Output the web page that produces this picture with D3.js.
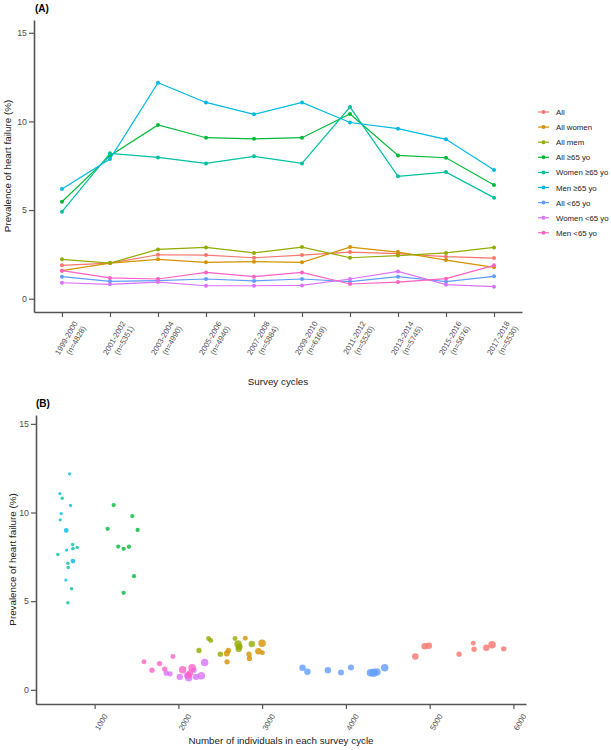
<!DOCTYPE html>
<html>
<head>
<meta charset="utf-8">
<script src="https://cdn.jsdelivr.net/npm/d3@7"></script>
<style>
  html, body { margin: 0; padding: 0; background: #fff; }
  svg { display: block; font-family: "Liberation Sans", Arial, Helvetica, sans-serif; }
</style>
</head>
<body>
<script>
// ---------------- DATA ----------------
const cycles = ["1999-2000","2001-2002","2003-2004","2005-2006","2007-2008","2009-2010","2011-2012","2013-2014","2015-2016","2017-2018"];
const cycleN = [4828, 5351, 4990, 4940, 5884, 6169, 5520, 5745, 5676, 5530];

const groups = ["All","All women","All mem","All \u226565 yo","Women \u226565 yo","Men \u226565 yo","All <65 yo","Women <65 yo","Men <65 yo"];
const groupColors = ["#F8766D","#D39200","#93AA00","#00BA38","#00C19F","#00B9E3","#619CFF","#DB72FB","#FF61C3"];

// Prevalence of heart failure (%) by cycle
const prevAll        = [1.88, 2.01, 2.48, 2.46, 2.31, 2.46, 2.63, 2.54, 2.37, 2.29];
const prevWomen      = [1.58, 2.01, 2.22, 2.05, 2.09, 2.05, 2.91, 2.63, 2.18, 1.77];
const prevMen        = [2.22, 2.01, 2.78, 2.89, 2.58, 2.91, 2.31, 2.43, 2.58, 2.89];
const prevAll65      = [5.47, 8.07, 9.80, 9.08, 9.02, 9.08, 10.42, 8.08, 7.95, 6.41];
const prevWomen65    = [4.91, 8.20, 7.97, 7.63, 8.03, 7.63, 10.81, 6.90, 7.14, 5.70];
const prevMen65      = [6.19, 7.88, 12.18, 11.07, 10.40, 11.07, 9.94, 9.59, 8.99, 7.26];
const prevAllU65     = [1.24, 0.98, 1.02, 1.11, 1.00, 1.11, 0.96, 1.24, 0.96, 1.26];
const prevWomenU65   = [0.90, 0.81, 0.94, 0.73, 0.73, 0.75, 1.11, 1.54, 0.79, 0.68];
const prevMenU65     = [1.58, 1.17, 1.11, 1.48, 1.24, 1.48, 0.83, 0.94, 1.13, 1.88];

// Number of individuals in each subgroup per cycle (panel B); 2009-2010 not shown
const nAll        = [4828, 5351, 4990, 4940, 5884, null, 5520, 5745, 5676, 5530];
const nWomen      = [2581, 2843, 2597, 2577, 3003, null, 2799, 2999, 2955, 2848];
const nMen        = [2246, 2501, 2386, 2360, 2876, null, 2720, 2728, 2712, 2676];
const nAll65      = [1346, 1410, 1450, 1155, 1514, null, 1227, 1282, 1346, 1470];
const nWomen65    = [681, 737, 741, 561, 792, null, 613, 685, 681, 725];
const nMen65      = [657, 665, 701, 585, 713, null, 601, 589, 661, 741];
const nAllU65     = [3482, 3941, 3540, 3785, 4370, null, 4293, 4463, 4330, 4060];
const nWomenU65   = [1900, 2106, 1856, 2016, 2211, null, 2186, 2314, 2274, 2123];
const nMenU65     = [1589, 1836, 1685, 1775, 2163, null, 2119, 2139, 2051, 1935];

// Relative weight (point size variable in panel B)
const wAll        = [9, 6.2, 9, 9, 6.2, null, 5, 12, 9, 6.2];
const wWomen      = [6.2, 6.2, 6.2, 7.8, 5.3, null, 5.3, 12, 9, 6.2];
const wMen        = [6.2, 6.2, 5.3, 5.3, 9, null, 9, 9, 12, 5.3];
const wAll65      = [4, 4, 4, 4, 4, null, 4, 4, 4, 4];
const wWomen65    = [2.6, 2.6, 3, 2.6, 2.6, null, 2.6, 2.6, 2.6, 2.6];
const wMen65      = [2.3, 2.3, 2.3, 2.3, 2.3, null, 2.3, 2.3, 4.8, 4.8];
const wAllU65     = [9, 7.8, 9, 9, 12, null, 12, 12, 16, 7.8];
const wWomenU65   = [6.2, 9, 6.2, 9, 9, null, 6.2, 12, 12, 12];
const wMenU65     = [5.3, 6.2, 6.2, 6.2, 12, null, 9, 9, 12, 5.3];

const yTicks = [0, 5, 10, 15];
const xTicksB = [1000, 2000, 3000, 4000, 5000, 6000];

const prevSeries = [prevAll, prevWomen, prevMen, prevAll65, prevWomen65, prevMen65, prevAllU65, prevWomenU65, prevMenU65];
const nSeries = [nAll, nWomen, nMen, nAll65, nWomen65, nMen65, nAllU65, nWomenU65, nMenU65];
const wSeries = [wAll, wWomen, wMen, wAll65, wWomen65, wMen65, wAllU65, wWomenU65, wMenU65];

// ---------------- CHART ----------------
const W = 611, H = 750;
const svg = d3.select("body").append("svg").attr("width", W).attr("height", H);
const axisColor = "#555";
const tickTextColor = "#4d4d4d";

function styleAxis(g) {
  g.select(".domain").attr("stroke", axisColor).attr("stroke-width", 1.6);
  g.selectAll(".tick line").attr("stroke", axisColor).attr("stroke-width", 1.2);
  g.selectAll(".tick text").attr("fill", tickTextColor);
}

// ===== Panel A =====
const ax = { left: 34, right: 522, top: 20, bottom: 312 };
const xA = d3.scalePoint().domain(cycles).range([ax.left, ax.right]).padding(0.583);
const yA = d3.scaleLinear().domain([-0.75, 15.72]).range([ax.bottom, ax.top]);

const gYA = svg.append("g").attr("transform", `translate(${ax.left},0)`)
  .call(d3.axisLeft(yA).tickValues(yTicks).tickSize(5).tickSizeOuter(0).tickPadding(2));
gYA.selectAll(".tick text").attr("font-size", 8.8);
styleAxis(gYA);

const gXA = svg.append("g").attr("transform", `translate(0,${ax.bottom})`)
  .call(d3.axisBottom(xA).tickSize(5).tickSizeOuter(0).tickFormat(""));
styleAxis(gXA);
gXA.selectAll(".tick").each(function(d, i) {
  const t = d3.select(this).append("text")
    .attr("transform", "rotate(-60)")
    .attr("text-anchor", "end")
    .attr("font-size", 7.8)
    .attr("fill", tickTextColor);
  t.append("tspan").attr("x", -2).attr("y", 19).text(d);
  t.append("tspan").attr("x", -2).attr("y", 28.5).text(`(n=${cycleN[i]})`);
});

const lineA = d3.line().x((d, i) => xA(cycles[i])).y(d => yA(d));
groups.forEach((gName, gi) => {
  const vals = prevSeries[gi];
  svg.append("path").datum(vals)
    .attr("d", lineA).attr("fill", "none")
    .attr("stroke", groupColors[gi]).attr("stroke-width", 1.2);
  svg.append("g").selectAll("circle").data(vals).join("circle")
    .attr("cx", (d, i) => xA(cycles[i])).attr("cy", d => yA(d))
    .attr("r", 2).attr("fill", groupColors[gi]);
});

// Legend
const leg = svg.append("g").attr("transform", "translate(538,112)");
groups.forEach((gName, gi) => {
  const row = leg.append("g").attr("transform", `translate(0,${gi * 15.1})`);
  row.append("line").attr("x1", 0).attr("x2", 11).attr("y1", 0).attr("y2", 0)
    .attr("stroke", groupColors[gi]).attr("stroke-width", 1.2);
  row.append("circle").attr("cx", 5.5).attr("cy", 0).attr("r", 2).attr("fill", groupColors[gi]);
  row.append("text").attr("x", 18).attr("y", 3).attr("font-size", 7.8).attr("fill", "#222").text(gName);
});

svg.append("text").attr("x", 35).attr("y", 11.5).attr("font-size", 10).attr("font-weight", "bold").text("(A)");
svg.append("text").attr("transform", `translate(11,${(ax.top + ax.bottom) / 2}) rotate(-90)`)
  .attr("text-anchor", "middle").attr("font-size", 9.8).attr("fill", "#222")
  .text("Prevalence of heart failure (%)");
svg.append("text").attr("x", (ax.left + ax.right) / 2).attr("y", 385)
  .attr("text-anchor", "middle").attr("font-size", 9.8).attr("fill", "#222").text("Survey cycles");

// ===== Panel B =====
const bx = { left: 36, right: 526, top: 415, bottom: 704 };
const xB = d3.scaleLinear().domain([300, 6150]).range([bx.left, bx.right]);
const yB = d3.scaleLinear().domain([-0.8, 15.5]).range([bx.bottom, bx.top]);
const rB = d3.scaleSqrt().domain([0, 16]).range([0, 4.3]);

const gYB = svg.append("g").attr("transform", `translate(${bx.left},0)`)
  .call(d3.axisLeft(yB).tickValues(yTicks).tickSize(5).tickSizeOuter(0).tickPadding(2));
gYB.selectAll(".tick text").attr("font-size", 8.8);
styleAxis(gYB);

const gXB = svg.append("g").attr("transform", `translate(0,${bx.bottom})`)
  .call(d3.axisBottom(xB).tickValues(xTicksB).tickSize(5).tickSizeOuter(0).tickFormat(""));
styleAxis(gXB);
gXB.selectAll(".tick").append("text")
  .attr("transform", "rotate(-60)")
  .attr("text-anchor", "end")
  .attr("x", -4).attr("y", 17)
  .attr("font-size", 7.8).attr("fill", tickTextColor)
  .text(d => d);

const pointsB = [];
groups.forEach((gName, gi) => {
  cycles.forEach((c, i) => {
    const n = nSeries[gi][i];
    if (n == null) return;
    pointsB.push({ g: gi, n: n, p: prevSeries[gi][i], w: wSeries[gi][i] });
  });
});
svg.append("g").selectAll("circle").data(pointsB).join("circle")
  .attr("cx", d => xB(d.n)).attr("cy", d => yB(d.p))
  .attr("r", d => rB(d.w))
  .attr("fill", d => groupColors[d.g]).attr("fill-opacity", 0.8);

svg.append("text").attr("x", 36).attr("y", 407).attr("font-size", 10).attr("font-weight", "bold").text("(B)");
svg.append("text").attr("transform", `translate(16,${(bx.top + bx.bottom) / 2}) rotate(-90)`)
  .attr("text-anchor", "middle").attr("font-size", 9.8).attr("fill", "#222")
  .text("Prevalence of heart failure (%)");
svg.append("text").attr("x", (bx.left + bx.right) / 2).attr("y", 744)
  .attr("text-anchor", "middle").attr("font-size", 9.8).attr("fill", "#222")
  .text("Number of individuals in each survey cycle");
</script>
</body>
</html>
